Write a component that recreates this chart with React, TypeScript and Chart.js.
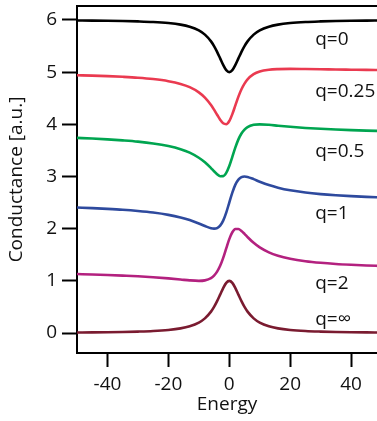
import React, { useEffect, useRef } from "react";
import { Chart, registerables } from "chart.js";

Chart.register(...registerables);

const energy = [-50, -45, -40, -35, -30, -25, -20, -16, -13, -10, -8, -6, -5, -4, -3, -2, -1, 0, 1, 2, 3, 4, 5, 6, 8, 10, 13, 16, 20, 25, 30, 35, 40, 45, 50];

const seriesQ0 = [5.99, 5.988, 5.985, 5.98, 5.973, 5.962, 5.941, 5.911, 5.871, 5.8, 5.719, 5.59, 5.5, 5.39, 5.265, 5.138, 5.038, 5.0, 5.038, 5.138, 5.265, 5.39, 5.5, 5.59, 5.719, 5.8, 5.871, 5.911, 5.941, 5.962, 5.973, 5.98, 5.985, 5.988, 5.99];
const seriesQ025 = [4.94, 4.934, 4.924, 4.911, 4.894, 4.868, 4.827, 4.774, 4.712, 4.613, 4.512, 4.37, 4.281, 4.184, 4.09, 4.019, 4.002, 4.063, 4.195, 4.364, 4.531, 4.672, 4.781, 4.862, 4.961, 5.013, 5.047, 5.059, 5.063, 5.06, 5.056, 5.051, 5.047, 5.043, 5.04];
const seriesQ05 = [3.74, 3.728, 3.712, 3.692, 3.668, 3.634, 3.584, 3.524, 3.458, 3.36, 3.272, 3.161, 3.1, 3.044, 3.006, 3.007, 3.069, 3.2, 3.377, 3.559, 3.712, 3.824, 3.9, 3.948, 3.991, 4.0, 3.991, 3.974, 3.953, 3.931, 3.914, 3.9, 3.889, 3.88, 3.873];
const seriesQ1 = [2.405, 2.393, 2.379, 2.362, 2.339, 2.309, 2.265, 2.215, 2.165, 2.1, 2.051, 2.008, 2.0, 2.012, 2.059, 2.155, 2.308, 2.5, 2.692, 2.845, 2.941, 2.988, 3.0, 2.992, 2.949, 2.9, 2.835, 2.785, 2.735, 2.692, 2.662, 2.64, 2.623, 2.61, 2.599];
const seriesQ2 = [1.13, 1.122, 1.112, 1.1, 1.087, 1.069, 1.047, 1.026, 1.009, 1.0, 1.009, 1.052, 1.1, 1.176, 1.288, 1.441, 1.623, 1.8, 1.931, 1.993, 1.994, 1.956, 1.9, 1.839, 1.728, 1.64, 1.545, 1.481, 1.424, 1.377, 1.346, 1.324, 1.308, 1.295, 1.285];
const seriesQinf = [0.01, 0.012, 0.015, 0.02, 0.027, 0.038, 0.059, 0.089, 0.129, 0.2, 0.281, 0.41, 0.5, 0.61, 0.735, 0.862, 0.962, 1.0, 0.962, 0.862, 0.735, 0.61, 0.5, 0.41, 0.281, 0.2, 0.129, 0.089, 0.059, 0.038, 0.027, 0.02, 0.015, 0.012, 0.01];

const seriesNames = ["q=0", "q=0.25", "q=0.5", "q=1", "q=2", "q=∞"];
const seriesValues = [seriesQ0, seriesQ025, seriesQ05, seriesQ1, seriesQ2, seriesQinf];
const seriesColors = ["#000000", "#ea3a50", "#00a550", "#2e4a9e", "#b3217f", "#7a1b30"];
const labelEnergy = 28.2;
const labelLevels = [5.52, 4.52, 3.37, 2.19, 0.84, 0.15];

const xTicks = [-40, -20, 0, 20, 40];
const yTicks = [0, 1, 2, 3, 4, 5, 6];

const FONT = '"Open Sans", "Liberation Sans", sans-serif';

const curveLabelPlugin = {
  id: "curveLabels",
  afterDatasetsDraw(chart: any) {
    const { ctx, scales, chartArea } = chart;
    ctx.save();
    // top frame line
    ctx.strokeStyle = "#000";
    ctx.lineWidth = 2;
    ctx.beginPath();
    ctx.moveTo(chartArea.left - 1, chartArea.top);
    ctx.lineTo(chartArea.right, chartArea.top);
    ctx.stroke();
    ctx.fillStyle = "#111";
    ctx.font = `19px ${FONT}`;
    ctx.textAlign = "left";
    ctx.textBaseline = "alphabetic";
    seriesNames.forEach((name, i) => {
      const x = scales.x.getPixelForValue(labelEnergy);
      const y = scales.y.getPixelForValue(labelLevels[i]);
      ctx.fillText(name, x, y);
    });
    ctx.restore();
  },
};

export default function App() {
  const canvasRef = useRef<HTMLCanvasElement | null>(null);

  useEffect(() => {
    document.body.style.margin = "0";
    let chart: Chart | null = null;
    let cancelled = false;
    const build = () => {
      if (cancelled || !canvasRef.current) return;
      chart = new Chart(canvasRef.current, {
        type: "line",
        data: {
          datasets: seriesValues.map((vals, i) => ({
            label: seriesNames[i],
            data: energy.map((e, j) => ({ x: e, y: vals[j] })),
            borderColor: seriesColors[i],
            borderWidth: 2.6,
            pointRadius: 0,
            fill: false,
            cubicInterpolationMode: "monotone" as const,
          })),
        },
        options: {
          animation: false,
          responsive: false,
          devicePixelRatio: 1,
          layout: { padding: { top: 6, right: 0, left: 0, bottom: 0 } },
          plugins: { legend: { display: false }, tooltip: { enabled: false } },
          scales: {
            x: {
              type: "linear",
              min: -50,
              max: 48.5,
              afterBuildTicks: (s: any) => {
                s.ticks = xTicks.map((v) => ({ value: v }));
              },
              afterFit: (s: any) => {
                s.height = 68;
                s.paddingLeft = 0;
                s.paddingRight = 0;
              },
              ticks: {
                color: "#111",
                font: { family: FONT, size: 19 },
                padding: 6,
                maxRotation: 0,
                autoSkip: false,
              },
              grid: {
                display: true,
                drawOnChartArea: false,
                drawTicks: true,
                tickLength: 14,
                tickWidth: 2,
                tickColor: "#000",
              },
              border: { display: true, color: "#000", width: 2 },
              title: {
                display: true,
                text: "Energy",
                color: "#111",
                font: { family: FONT, size: 19 },
                padding: { top: 0, bottom: 5 },
              },
            },
            y: {
              type: "linear",
              min: -0.383,
              max: 6.268,
              afterBuildTicks: (s: any) => {
                s.ticks = yTicks.map((v) => ({ value: v }));
              },
              afterFit: (s: any) => {
                s.width = 77;
                s.paddingTop = 0;
                s.paddingBottom = 0;
              },
              ticks: {
                color: "#111",
                font: { family: FONT, size: 19 },
                padding: 5,
                autoSkip: false,
              },
              grid: {
                display: true,
                drawOnChartArea: false,
                drawTicks: true,
                tickLength: 15,
                tickWidth: 2,
                tickColor: "#000",
              },
              border: { display: true, color: "#000", width: 2 },
              title: {
                display: true,
                text: "Conductance [a.u.]",
                color: "#111",
                font: { family: FONT, size: 19 },
                padding: { top: 5, bottom: 0 },
              },
            },
          },
        },
        plugins: [curveLabelPlugin],
      });
    };
    if ((document as any).fonts && (document as any).fonts.load) {
      (document as any).fonts.load(`19px "Open Sans"`).then(build, build);
    } else {
      build();
    }
    return () => {
      cancelled = true;
      if (chart) chart.destroy();
    };
  }, []);

  return (
    <div style={{ width: 377, height: 421 }}>
      <canvas ref={canvasRef} width={377} height={421} style={{ display: "block", width: 377, height: 421 }} />
    </div>
  );
}
